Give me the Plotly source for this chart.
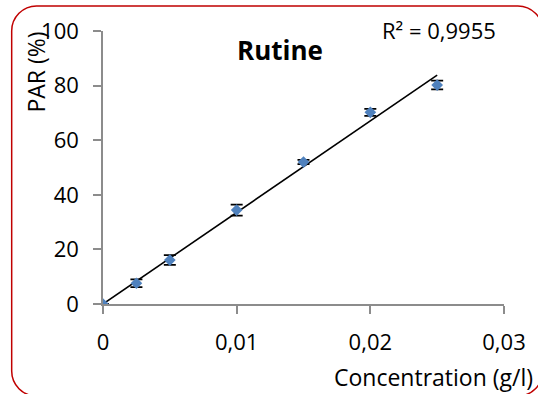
import numpy as np
import plotly.graph_objects as go

conc = [0, 0.0025, 0.005, 0.01, 0.015, 0.02, 0.025]
par = [0, 7.6, 16.1, 34.4, 52.0, 70.2, 80.2]
err = [0, 1.4, 1.8, 2.0, 0.8, 1.3, 1.6]
x_ticks = [0, 0.01, 0.02, 0.03]
x_tick_labels = ["0", "0,01", "0,02", "0,03"]
y_ticks = [0, 20, 40, 60, 80, 100]

W, H = 538, 394
L, R, T, B = 103, 31, 31, 90
pw, ph = W - L - R, H - T - B

x_arr = np.array(conc)
y_arr = np.array(par)
slope = float((x_arr * y_arr).sum() / (x_arr ** 2).sum())
tx = [min(conc), max(conc)]
ty = [slope * v for v in tx]

FONT = "Open Sans"

fig = go.Figure()
fig.add_trace(go.Scatter(
    x=tx, y=ty, mode="lines", line=dict(color="black", width=1.6),
    showlegend=False, hoverinfo="skip"))
fig.add_trace(go.Scatter(
    x=conc, y=par, mode="markers",
    marker=dict(symbol="diamond", size=9, color="#4F81BD"),
    error_y=dict(type="data", array=err, visible=True, color="black",
                 thickness=1.8, width=6),
    showlegend=False))

def px_to_paper(px, py):
    return (px - L) / pw, (H - B - py) / ph

def P(px, py):
    a, b = px_to_paper(px, py)
    return f"{a:.5f},{b:.5f}"

# rounded red border
x0, y0, x1, y1, r = 11, 6, 546, 396, 25
k = 0.5523 * r
path = (f"M {P(x0 + r, y0)} L {P(x1 - r, y0)} "
        f"C {P(x1 - r + k, y0)} {P(x1, y0 + r - k)} {P(x1, y0 + r)} "
        f"L {P(x1, y1 - r)} "
        f"C {P(x1, y1 - r + k)} {P(x1 - r + k, y1)} {P(x1 - r, y1)} "
        f"L {P(x0 + r, y1)} "
        f"C {P(x0 + r - k, y1)} {P(x0, y1 - r + k)} {P(x0, y1 - r)} "
        f"L {P(x0, y0 + r)} "
        f"C {P(x0, y0 + r - k)} {P(x0 + r - k, y0)} {P(x0 + r, y0)} Z")
fig.add_shape(type="path", path=path, xref="paper", yref="paper",
              line=dict(color="#C00000", width=1.5), layer="below")

def ann(text, px, py, size, bold=False, angle=0, xanchor="center"):
    a, b = px_to_paper(px, py)
    fig.add_annotation(text=f"<b>{text}</b>" if bold else text, x=a, y=b,
                       xref="paper", yref="paper", showarrow=False,
                       textangle=angle, xanchor=xanchor, yanchor="middle",
                       font=dict(family=FONT, size=size, color="black"))

ann("Rutine", 281, 50, 26, bold=True)
ann("R² = 0,9955", 442, 30, 22)
ann("PAR (%)", 35, 72, 23, angle=-90)
ann("Concentration (g/l)", 436, 377, 23)

fig.update_layout(
    width=W, height=H,
    margin=dict(l=L, r=R, t=T, b=B, pad=0),
    paper_bgcolor="white", plot_bgcolor="white",
    font=dict(family=FONT, size=22, color="black"),
    xaxis=dict(range=[0, 0.03], tickvals=x_ticks, ticktext=x_tick_labels,
               showgrid=False, zeroline=False, showline=True,
               linecolor="#8C8C8C", linewidth=1.5, ticks="outside",
               ticklen=8, tickcolor="#8C8C8C", tickwidth=1.5,
               ticklabelstandoff=10, tickfont=dict(size=22)),
    yaxis=dict(range=[0, 100], tickvals=y_ticks, showgrid=False,
               zeroline=False, showline=True, linecolor="#8C8C8C",
               linewidth=1.5, ticks="outside", ticklen=8,
               tickcolor="#8C8C8C", tickwidth=1.5, ticklabelstandoff=10,
               tickfont=dict(size=22)),
)
fig.write_html("out.html")
